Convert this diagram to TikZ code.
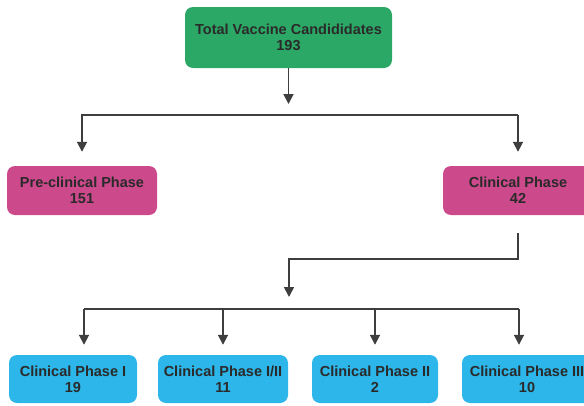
\documentclass[tikz,border=0pt]{standalone}
\usepackage{fontspec}
\setmainfont{Liberation Sans}
\usepackage{xcolor}
\usepackage{tikz}
\usetikzlibrary{arrows.meta,calc,positioning}
\definecolor{boxgreen}{RGB}{44,168,102}
\definecolor{boxpink}{RGB}{204,74,140}
\definecolor{boxblue}{RGB}{44,182,233}
\definecolor{txtgray}{RGB}{42,42,42}
\definecolor{linegray}{RGB}{62,62,62}

\begin{document}
\begin{tikzpicture}[
    x=1pt, y=1pt,
    phase/.style={
        rectangle, rounded corners=8pt, inner sep=0, align=center,
        text=txtgray, font={\fontsize{14.5}{16}\selectfont\bfseries}},
    top/.style={phase, fill=boxgreen, minimum width=207pt, minimum height=61pt},
    mid/.style={phase, fill=boxpink, minimum width=150pt, minimum height=49pt},
    low/.style={phase, fill=boxblue, minimum height=48pt},
    link/.style={draw=linegray, line width=1.8pt},
    arr/.style={link, -{Triangle[width=10pt,length=10pt]}}]
\useasboundingbox (0,0) rectangle (584,-405);

% boxes
\node[top] (total) at (288.5,-37.5) {Total Vaccine Candididates\\193};
\node[mid] (preclin) at (82,-190.5) {Pre-clinical Phase\\151};
\node[mid] (clin) at (518,-190.5) {Clinical Phase\\42};
\node[low, minimum width=128pt] (ph1)  at (73,-379)  {Clinical Phase I\\19};
\node[low, minimum width=130pt] (ph12) at (223,-379) {Clinical Phase I/II\\11};
\node[low, minimum width=126pt] (ph2)  at (375,-379) {Clinical Phase II\\2};
\node[low, minimum width=130pt] (ph3)  at (527,-379) {Clinical Phase III\\10};

% branch points
\coordinate (topend) at (288.5,-104);
\coordinate (bus1) at (0,-115);
\coordinate (elbow) at (289,-259);
\coordinate (drop) at (289,-297);
\coordinate (tapA) at (84,-309);
\coordinate (tapB) at (223,-309);
\coordinate (tapC) at (375,-309);
\coordinate (tapD) at (519,-309);

% connectors
\draw[arr] (total.south) -- (topend);
\draw[arr, shorten >=14pt] (bus1 -| clin.north) -- (bus1 -| preclin.north) -- (preclin.north);
\draw[arr, shorten >=14pt] (bus1 -| clin.north) -- (clin.north);
\draw[arr, shorten <=18pt] (clin.south) |- (elbow) -- (drop);
\draw[link] (tapA) -- (tapD);
\draw[arr, shorten >=10pt] (tapA) -- (tapA |- ph1.north);
\draw[arr, shorten >=10pt] (tapB) -- (tapB |- ph12.north);
\draw[arr, shorten >=10pt] (tapC) -- (tapC |- ph2.north);
\draw[arr, shorten >=10pt] (tapD) -- (tapD |- ph3.north);

\end{tikzpicture}
\end{document}
